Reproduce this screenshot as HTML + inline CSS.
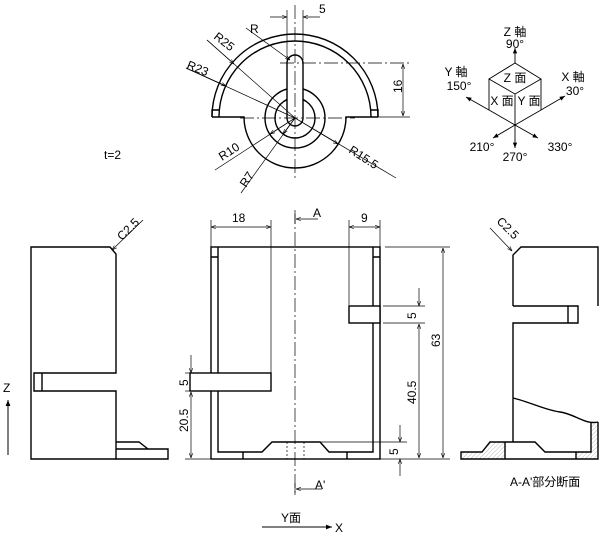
<!DOCTYPE html>
<html><head><meta charset="utf-8"><style>
html,body{margin:0;padding:0;background:#fff}
svg{display:block}
text{font-family:"Liberation Sans","Noto Sans CJK JP",sans-serif;font-size:12px;fill:#000}
</style></head><body>
<svg width="600" height="539" viewBox="0 0 600 539" xmlns="http://www.w3.org/2000/svg">
<defs>
<marker id="a" viewBox="0 0 10 10" refX="10" refY="5" markerWidth="7" markerHeight="7" orient="auto-start-reverse"><path d="M0,1.5 L10,5 L0,8.5" fill="none" stroke="#000" stroke-width="1.2"/></marker>
<marker id="f" viewBox="0 0 10 10" refX="10" refY="5" markerWidth="6" markerHeight="6" orient="auto-start-reverse"><path d="M0,1 L10,5 L0,9 z" fill="#000"/></marker>
<pattern id="h" width="3" height="3" patternUnits="userSpaceOnUse" patternTransform="rotate(45)"><line x1="0" y1="0" x2="0" y2="3" stroke="#888" stroke-width="0.6"/></pattern>
</defs>
<g fill="none" stroke="#000" stroke-width="1.4">
<!-- TOP VIEW -->
<path d="M212,117 A83,83 0 0 1 378,117"/>
<path d="M219,117 A76,76 0 0 1 371,117"/>
<path d="M212,117 L212,110 L219,110 M378,117 L378,110 L371,110"/>
<path d="M212,117 L244,117 A51,51 0 0 0 346,117 L378,117"/>
<circle cx="295" cy="118" r="30"/>
<circle cx="295" cy="118" r="20"/>
<path d="M287,63 A8,8 0 0 1 303,63 L303,118 A8,8 0 0 1 287,118 Z" fill="#fff"/>
</g>
<g fill="none" stroke="#000" stroke-width="0.7">
<line x1="295" y1="5" x2="295" y2="180" stroke-dasharray="14,3,2,3"/>
<line x1="240" y1="118" x2="355" y2="118" stroke-dasharray="14,3,2,3"/>
<line x1="280" y1="63" x2="410" y2="63" stroke-dasharray="14,3,2,3"/>
<line x1="350" y1="117" x2="410" y2="117"/>
<line x1="403" y1="64" x2="403" y2="116" marker-start="url(#a)" marker-end="url(#a)"/>
<line x1="287" y1="10" x2="287" y2="60"/><line x1="303" y1="10" x2="303" y2="60"/>
<line x1="270" y1="17" x2="287" y2="17" marker-end="url(#a)"/>
<line x1="320" y1="17" x2="303" y2="17" marker-end="url(#a)"/>
<line x1="246" y1="28" x2="290" y2="60" marker-end="url(#a)"/>
<line x1="207" y1="40" x2="295" y2="118"/><line x1="207" y1="40" x2="234" y2="64" marker-end="url(#a)"/>
<line x1="186" y1="68" x2="295" y2="118"/><line x1="186" y1="68" x2="226" y2="86" marker-end="url(#a)"/>
<line x1="215" y1="170" x2="295" y2="118"/><line x1="295" y1="118" x2="270" y2="134" marker-end="url(#a)"/>
<line x1="241" y1="193" x2="295" y2="118"/><line x1="295" y1="118" x2="283" y2="134" marker-end="url(#a)"/>
<line x1="295" y1="118" x2="396" y2="178"/><line x1="295" y1="118" x2="338" y2="144" marker-end="url(#a)"/>
</g>
<text x="319" y="13">5</text>
<text transform="translate(402,93) rotate(-90)">16</text>
<text x="250" y="33">R</text>
<text transform="translate(213,38) rotate(38)">R25</text>
<text transform="translate(186,68) rotate(22)">R23</text>
<text transform="translate(222,161) rotate(-33)">R10</text>
<text transform="translate(246,188) rotate(-57)">R7</text>
<text transform="translate(348,152) rotate(33)">R15.5</text>
<text x="104" y="159">t=2</text>

<!-- AXIS ICON -->
<g fill="none" stroke="#000" stroke-width="0.9">
<path d="M515,63 L541,79 L515,94 L489,79 Z M489,79 L489,110 L515,125 L541,110 L541,79 M515,94 L515,125"/>
<line x1="515" y1="63" x2="515" y2="48" marker-end="url(#f)"/>
<line x1="541" y1="110" x2="565" y2="96" marker-end="url(#f)"/>
<line x1="489" y1="110" x2="466" y2="97" marker-end="url(#f)"/>
<line x1="515" y1="125" x2="493" y2="138" marker-end="url(#f)"/>
<line x1="515" y1="125" x2="515" y2="148" marker-end="url(#f)"/>
<line x1="515" y1="125" x2="538" y2="138" marker-end="url(#f)"/>
</g>
<g font-size="11" text-anchor="middle">
<text x="515" y="36" font-size="11">Z 軸</text><text x="515" y="48" font-size="11">90°</text>
<text x="456" y="76" font-size="11">Y 軸</text><text x="459" y="90" font-size="11">150°</text>
<text x="573" y="81" font-size="11">X 軸</text><text x="575" y="95" font-size="11">30°</text>
<text x="515" y="82" font-size="11">Z 面</text><text x="502" y="105" font-size="11">X 面</text><text x="529" y="105" font-size="11">Y 面</text>
<text x="482" y="151" font-size="11">210°</text><text x="515" y="161" font-size="11">270°</text><text x="560" y="151" font-size="11">330°</text>
</g>

<!-- LEFT VIEW -->
<g fill="none" stroke="#000" stroke-width="1.4">
<path d="M31,247 L110,247 L116,254 L116,373 L34,373 L34,391 L116,391 L116,459 L31,459 Z"/>
<line x1="42" y1="373" x2="42" y2="391"/>
<path d="M116,442 L139,442 L148,449 M116,449 L168,449 L168,459 L116,459"/>
</g>
<line x1="143" y1="220" x2="112" y2="250" stroke="#000" stroke-width="0.7" marker-end="url(#a)"/>
<text transform="translate(122,241) rotate(-45)">C2.5</text>
<line x1="8" y1="455" x2="8" y2="400" stroke="#000" stroke-width="1" marker-end="url(#f)"/>
<text x="3" y="392">Z</text>

<!-- FRONT VIEW -->
<g fill="none" stroke="#000" stroke-width="1.4">
<rect x="211" y="247" width="169" height="212"/>
<path d="M218,247 L218,452 L262,452 L272,442 L320,442 L329,452 L373,452 L373,247"/>
<path d="M211,257 L218,257 M373,257 L380,257"/>
<rect x="190" y="373" width="81" height="18" fill="#fff"/>
<rect x="349" y="306" width="31" height="17" fill="#fff"/>
<path d="M243,452 L243,459 M347,452 L347,459"/>
</g>
<g fill="none" stroke="#000" stroke-width="0.7">
<path d="M287,442 L287,459 M304,442 L304,459" stroke-dasharray="2,2"/>
<line x1="295" y1="210" x2="295" y2="496" stroke-dasharray="14,3,2,3"/>
<path d="M295,214 L295,224 M295,483 L295,495"/>
<line x1="318" y1="219" x2="296" y2="219" marker-end="url(#a)"/>
<line x1="322" y1="489" x2="296" y2="489" marker-end="url(#a)"/>
<line x1="211" y1="220" x2="211" y2="247"/><line x1="271" y1="220" x2="271" y2="373"/>
<line x1="211" y1="227" x2="271" y2="227" marker-start="url(#a)" marker-end="url(#a)"/>
<line x1="349" y1="220" x2="349" y2="305"/><line x1="380" y1="220" x2="380" y2="247"/>
<line x1="349" y1="227" x2="380" y2="227" marker-start="url(#a)" marker-end="url(#a)"/>
<line x1="385" y1="247" x2="450" y2="247"/>
<line x1="443" y1="248" x2="443" y2="458" marker-start="url(#a)" marker-end="url(#a)"/>
<line x1="185" y1="459" x2="450" y2="459"/>
<line x1="383" y1="306" x2="425" y2="306"/><line x1="383" y1="323" x2="425" y2="323"/>
<line x1="419" y1="288" x2="419" y2="306" marker-end="url(#a)"/>
<line x1="419" y1="324" x2="419" y2="458" marker-start="url(#a)" marker-end="url(#a)"/>
<line x1="320" y1="442" x2="407" y2="442"/>
<line x1="400" y1="425" x2="400" y2="442" marker-end="url(#a)"/>
<line x1="400" y1="476" x2="400" y2="459" marker-end="url(#a)"/>
<line x1="185" y1="373" x2="190" y2="373"/><line x1="185" y1="391" x2="190" y2="391"/>
<line x1="191" y1="355" x2="191" y2="373" marker-end="url(#a)"/>
<line x1="191" y1="392" x2="191" y2="458" marker-start="url(#a)" marker-end="url(#a)"/>
</g>
<text x="313" y="217">A</text><text x="315" y="489">A'</text>
<text x="232" y="222">18</text><text x="361" y="222">9</text>
<text transform="translate(440,347) rotate(-90)">63</text>
<text transform="translate(416,404) rotate(-90)">40.5</text>
<text transform="translate(416,319) rotate(-90)">5</text>
<text transform="translate(398,455) rotate(-90)">5</text>
<text transform="translate(188,386) rotate(-90)">5</text>
<text transform="translate(188,432) rotate(-90)">20.5</text>

<!-- RIGHT VIEW (section) -->
<path d="M461,452 L482,452 L490,442 L505,442 L505,459 L461,459 Z" fill="url(#h)" stroke="none"/>
<path d="M591,422 L598,422 L598,459 L576,459 L576,452 L591,452 Z" fill="url(#h)" stroke="none"/>
<g fill="none" stroke="#000" stroke-width="1.4">
<path d="M513,306 L513,255 L521,247 L598,247 L598,306"/>
<path d="M513,306 L578,306 L578,323 L513,323 L513,442"/>
<line x1="568" y1="306" x2="568" y2="323"/>
<path d="M513,398 C530,402 545,410 560,412 C575,414 585,425 598,422"/>
<path d="M598,422 L598,459 L461,459 L461,452 L482,452 L490,442 L535,442 L545,452 L591,452 L591,422"/>
<path d="M505,442 L505,459 M576,452 L576,459"/>
</g>
<line x1="490" y1="228" x2="512" y2="251" stroke="#000" stroke-width="0.7" marker-end="url(#a)"/>
<text transform="translate(496,222) rotate(45)">C2.5</text>
<text x="510" y="486" font-size="12">A-A'部分断面</text>

<!-- BOTTOM -->
<text x="281" y="522">Y面</text>
<line x1="262" y1="527" x2="332" y2="527" stroke="#000" stroke-width="1" marker-end="url(#f)"/>
<text x="335" y="532" font-size="13">X</text>
</svg>
</body></html>
